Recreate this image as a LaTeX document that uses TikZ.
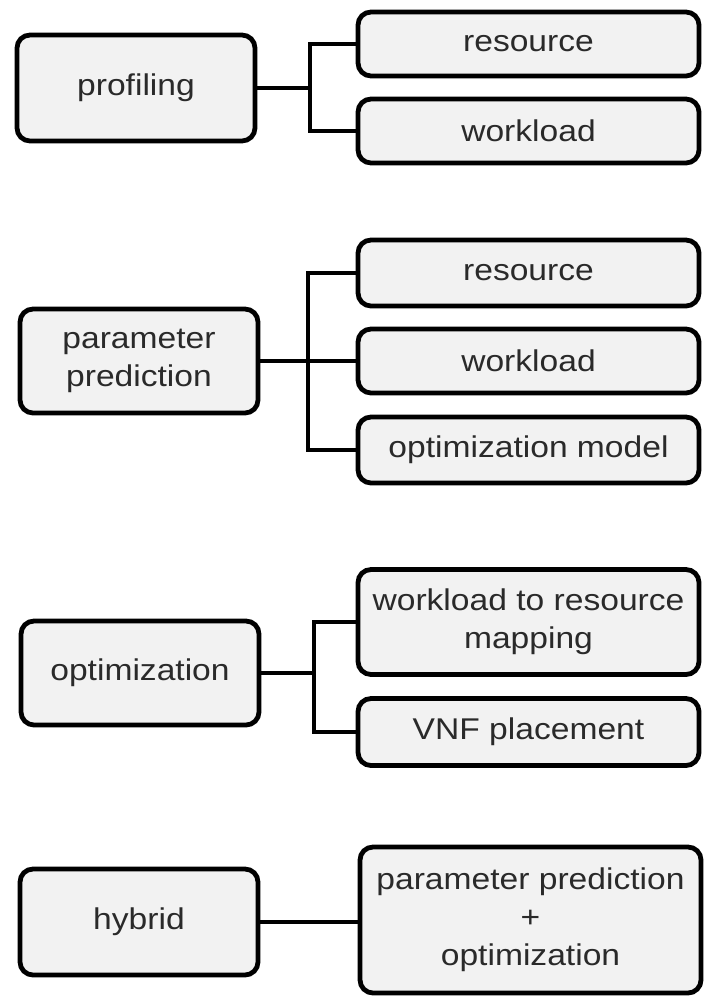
\documentclass[tikz,border=0pt]{standalone}
\usepackage{fontspec}
\setmainfont[FakeStretch=1.12]{Liberation Sans}
\definecolor{boxfill}{HTML}{F2F2F2}
\definecolor{boxtext}{HTML}{2A2A2A}
\begin{document}
\begin{tikzpicture}[x=1pt,y=-1pt,
  box/.style={draw=black, line width=4.8pt, fill=boxfill, rounded corners=13pt,
    rectangle, inner sep=0pt, align=center, text=boxtext,
    font=\fontsize{30}{38}\selectfont},
  cat/.style={box, minimum width=238pt},
  leaf/.style={box, minimum width=341pt},
  link/.style={line width=4.8pt, draw=black}]
\useasboundingbox (0,0) rectangle (704,996);

% category boxes (left column)
\node[cat, minimum height=106pt] (prof) at (136,88) {profiling};
\node[cat, minimum height=104pt] (pp)   at (139,361) {parameter\\prediction};
\node[cat, minimum height=104pt] (opt)  at (140,673) {optimization};
\node[cat, minimum height=106pt] (hyb)  at (139,922) {hybrid};

% leaf boxes (right column)
\node[leaf, minimum height=64pt]  (res1) at (528.5,44)  {resource};
\node[leaf, minimum height=64pt]  (wl1)  at (528.5,131) {workload};
\node[leaf, minimum height=66pt]  (res2) at (528.5,273) {resource};
\node[leaf, minimum height=64pt]  (wl2)  at (528.5,361) {workload};
\node[leaf, minimum height=66pt]  (om)   at (528.5,450) {optimization model};
\node[leaf, minimum height=105pt] (map)  at (528.5,622) {workload to resource\\mapping};
\node[leaf, minimum height=67pt]  (vnf)  at (528.5,732) {VNF placement};
\node[leaf, minimum height=146pt] (ppo)  at (530.5,920) {parameter prediction\\+\\optimization};

% branch points
\coordinate (j1) at (310,88);
\coordinate (j2) at (308,361);
\coordinate (j3) at (314,673);

% connectors
\draw[link] (prof.east) -- (j1);
\draw[link] (j1) |- (res1.west);
\draw[link] (j1) |- (wl1.west);

\draw[link] (pp.east) -- (wl2.west);
\draw[link] (j2) |- (res2.west);
\draw[link] (j2) |- (om.west);

\draw[link] (opt.east) -- (j3);
\draw[link] (j3) |- (map.west);
\draw[link] (j3) |- (vnf.west);

\draw[link] (hyb.east) -- (hyb.east -| ppo.west);
\end{tikzpicture}
\end{document}
